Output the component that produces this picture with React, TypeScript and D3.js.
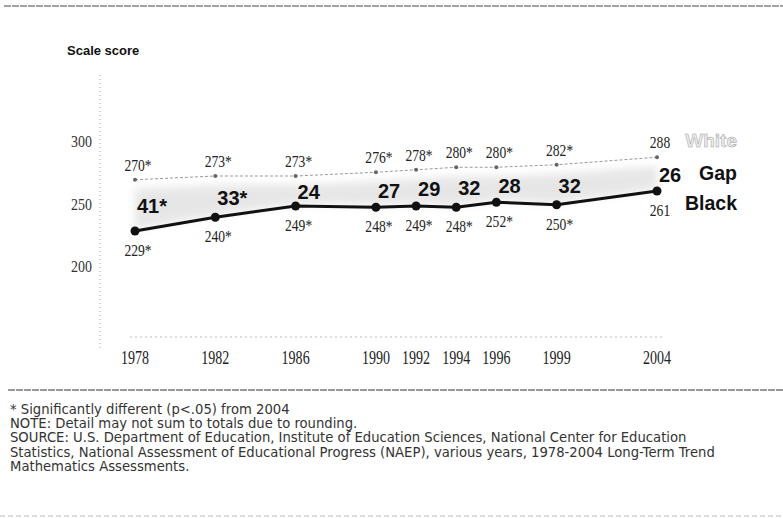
import React from "react";
import * as d3 from "d3";

const years = [1978, 1982, 1986, 1990, 1992, 1994, 1996, 1999, 2004];
const whiteScores = [270, 273, 273, 276, 278, 280, 280, 282, 288];
const blackScores = [229, 240, 249, 248, 249, 248, 252, 250, 261];
const whiteLabels = ["270*", "273*", "273*", "276*", "278*", "280*", "280*", "282*", "288"];
const blackLabels = ["229*", "240*", "249*", "248*", "249*", "248*", "252*", "250*", "261"];
const gapLabels = ["41*", "33*", "24", "27", "29", "32", "28", "32", "26"];
const yTicks = [200, 250, 300];
const footnotes = [
  "* Significantly different (p<.05) from 2004",
  "NOTE: Detail may not sum to totals due to rounding.",
  "SOURCE: U.S. Department of Education, Institute of Education Sciences, National Center for Education",
  "Statistics, National Assessment of Educational Progress (NAEP), various years, 1978-2004 Long-Term Trend",
  "Mathematics Assessments.",
];

const W = 783;
const H = 518;
const SERIF = "'Liberation Serif', 'DejaVu Serif', serif";
const SANS = "'Liberation Sans', Arial, sans-serif";
const NOTE_FONT = "'DejaVu Sans', 'Liberation Sans', sans-serif";

export default function App() {
  const x = d3.scaleLinear().domain([1978, 2004]).range([135, 657]);
  const y = d3.scaleLinear().domain([200, 300]).range([267.25, 142.25]);

  const rows = years.map((yr, i) => ({ yr, w: whiteScores[i], b: blackScores[i], i }));

  const lineW = d3.line<any>().x((d) => x(d.yr)).y((d) => y(d.w));
  const lineB = d3.line<any>().x((d) => x(d.yr)).y((d) => y(d.b));
  const band = d3
    .area<any>()
    .x((d) => x(d.yr))
    .y0((d) => y(d.b) - 2)
    .y1((d) => y(d.w) + 9);

  const last = rows[rows.length - 1];

  const cond = (tx: number, ty: number, s: number) => `translate(${tx},${ty}) scale(${s},1)`;

  return (
    <svg
      width={W}
      height={H}
      style={{ position: "absolute", left: 0, top: 0, background: "#fff" }}
    >
      <defs>
        <filter id="blur" x="-10%" y="-50%" width="120%" height="200%">
          <feGaussianBlur stdDeviation="4.5" />
        </filter>
      </defs>
      <rect width={W} height={H} fill="#fff" />

      {/* separators */}
      <line x1={4} x2={W} y1={6} y2={6} stroke="#444" strokeWidth={1} strokeDasharray="7,1" />
      <line x1={8} x2={W} y1={390} y2={390} stroke="#333" strokeWidth={1} strokeDasharray="7,1" />
      <line x1={0} x2={W} y1={516} y2={516} stroke="#bbb" strokeWidth={1} strokeDasharray="5,3" />

      {/* title */}
      <text x={67} y={55} fontFamily={SANS} fontWeight="bold" fontSize={13} fill="#111">
        Scale score
      </text>

      {/* y axis */}
      <line x1={100} x2={100} y1={75} y2={348} stroke="#aaa" strokeWidth={1} strokeDasharray="1,3" />
      {yTicks.map((t) => (
        <text
          key={t}
          transform={cond(92, y(t) + 5, 0.82)}
          textAnchor="end"
          fontFamily={SERIF}
          fontSize={17}
          fill="#333"
        >
          {t}
        </text>
      ))}

      {/* x baseline */}
      <line x1={130} x2={662} y1={337} y2={337} stroke="#bbb" strokeWidth={1} strokeDasharray="2,3" />
      {years.map((yr) => (
        <text
          key={yr}
          transform={cond(x(yr), 364, 0.78)}
          textAnchor="middle"
          fontFamily={SERIF}
          fontSize={18}
          fill="#222"
        >
          {yr}
        </text>
      ))}

      {/* gap shading */}
      <path d={band(rows) || ""} fill="#cfcfcf" opacity={0.5} filter="url(#blur)" />

      {/* white line */}
      <path d={lineW(rows) || ""} fill="none" stroke="#9a9a9a" strokeWidth={1} strokeDasharray="3,2" />
      {rows.map((d) => (
        <circle key={"wp" + d.yr} cx={x(d.yr)} cy={y(d.w)} r={2} fill="#666" />
      ))}
      {rows.map((d) => (
        <text
          key={"wl" + d.yr}
          transform={cond(x(d.yr) + 3, y(d.w) - 9, 0.8)}
          textAnchor="middle"
          fontFamily={SERIF}
          fontSize={17}
          fill="#222"
        >
          {whiteLabels[d.i]}
        </text>
      ))}

      {/* black line */}
      <path d={lineB(rows) || ""} fill="none" stroke="#111" strokeWidth={3} />
      {rows.map((d) => (
        <circle key={"bp" + d.yr} cx={x(d.yr)} cy={y(d.b)} r={4.5} fill="#111" />
      ))}
      {rows.map((d) => (
        <text
          key={"bl" + d.yr}
          transform={cond(x(d.yr) + 3, y(d.b) + 25, 0.8)}
          textAnchor="middle"
          fontFamily={SERIF}
          fontSize={17}
          fill="#222"
        >
          {blackLabels[d.i]}
        </text>
      ))}

      {/* gap labels */}
      {rows.map((d) => (
        <text
          key={"gl" + d.yr}
          x={x(d.yr) + 2}
          y={(y(d.b) + y(d.w)) / 2 + 8}
          fontFamily={SANS}
          fontWeight="bold"
          fontSize={20}
          fill="#111"
        >
          {gapLabels[d.i]}
        </text>
      ))}

      {/* series legend labels */}
      <text
        x={737}
        y={y(last.w) - 10}
        textAnchor="end"
        fontFamily={SANS}
        fontWeight="bold"
        fontSize={19}
        fill="#ececec"
        stroke="#a0a0a0"
        strokeWidth={0.5}
      >
        White
      </text>
      <text x={737} y={(y(last.b) + y(last.w)) / 2 + 6} textAnchor="end" fontFamily={SANS} fontWeight="bold" fontSize={19.5} fill="#111">
        Gap
      </text>
      <text x={737} y={y(last.b) + 19} textAnchor="end" fontFamily={SANS} fontWeight="bold" fontSize={19.5} fill="#111">
        Black
      </text>

      {/* footnotes */}
      {footnotes.map((t, i) => (
        <text key={i} x={10} y={414 + i * 14.2} fontFamily={NOTE_FONT} fontSize={13.2} fill="#333">
          {t}
        </text>
      ))}
    </svg>
  );
}
